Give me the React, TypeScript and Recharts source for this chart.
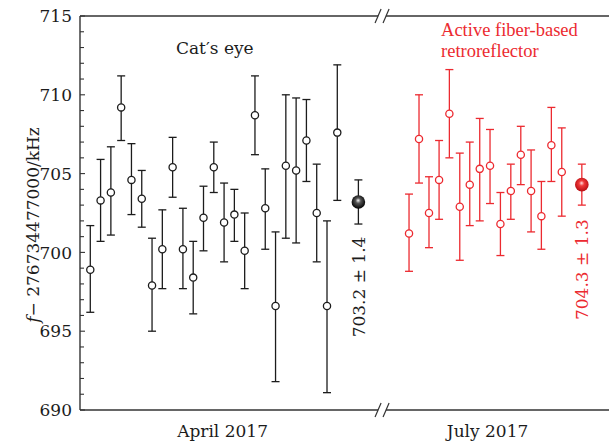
import { ScatterChart, Scatter, XAxis, YAxis, ErrorBar, ReferenceLine, ReferenceDot, Label } from "recharts";

const SERIF = '"DejaVu Serif", serif';
const TIMES = '"Liberation Serif", serif';
const INK = "#1c1c1c";
const AXIS = "#333";
const RED = "#ec2a30";

// April 2017, cat's eye
const aprilX = [0, 1, 2, 3, 4, 5, 6, 7, 8, 9, 10, 11, 12, 13, 14, 15, 16, 17, 18, 19, 20, 21, 22, 23, 24];
const aprilF = [698.9, 703.3, 703.8, 709.2, 704.6, 703.4, 697.9, 700.2, 705.4, 700.2, 698.4, 702.2, 705.4, 701.9, 702.4, 700.1, 708.7, 702.8, 696.6, 705.5, 705.2, 707.1, 702.5, 696.6, 707.6];
const aprilLow = [696.2, 700.7, 701.1, 707.1, 702.4, 701.6, 695.0, 697.7, 703.5, 697.7, 696.1, 700.1, 703.8, 699.4, 700.7, 697.7, 706.2, 700.2, 691.8, 700.9, 700.6, 704.5, 699.4, 691.1, 703.3];
const aprilHigh = [701.7, 705.9, 706.7, 711.2, 706.9, 705.2, 700.9, 702.7, 707.3, 702.8, 700.7, 704.2, 707.0, 704.4, 704.0, 702.5, 711.2, 705.3, 701.3, 710.0, 709.8, 709.7, 705.6, 702.0, 711.9];

// July 2017, active fiber-based retroreflector
const julyX = [30.97, 31.94, 32.91, 33.89, 34.89, 35.9, 36.87, 37.84, 38.84, 39.85, 40.86, 41.83, 42.83, 43.83, 44.8, 45.81];
const julyF = [701.2, 707.2, 702.5, 704.6, 708.8, 702.9, 704.3, 705.3, 705.5, 701.8, 703.9, 706.2, 703.9, 702.3, 706.8, 705.1];
const julyLow = [698.8, 704.4, 700.3, 702.1, 706.0, 699.5, 701.7, 702.0, 703.1, 699.8, 702.1, 704.3, 701.3, 700.2, 704.5, 702.3];
const julyHigh = [703.7, 710.0, 704.8, 707.1, 711.6, 706.3, 707.0, 708.5, 707.8, 703.8, 705.6, 708.0, 706.5, 704.5, 709.2, 707.9];

// weighted means
const meanX = [26.05, 47.76];
const meanF = [703.2, 704.3];
const meanLow = [701.8, 703.0];
const meanHigh = [704.6, 705.6];
const meanText = ["703.2 ± 1.4", "704.3 ± 1.3"];

const monthLabels = ["April 2017", "July 2017"];
const monthAt = [12.85, 38.6];
const yMajor = [690, 695, 700, 705, 710, 715];
const yTicks = [690, 691, 692, 693, 694, 695, 696, 697, 698, 699, 700, 701, 702, 703, 704, 705, 706, 707, 708, 709, 710, 711, 712, 713, 714, 715];

const xMin = -1;
const xMax = 50.4;
const breakAt = 28.35;
const breakHalf = 0.39;

function build(xs: number[], ys: number[], lo: number[], hi: number[]) {
  return xs.map((x, i) => ({ x, y: ys[i], err: [ys[i] - lo[i], hi[i] - ys[i]] }));
}

const april = build(aprilX, aprilF, aprilLow, aprilHigh);
const july = build(julyX, julyF, julyLow, julyHigh);
const means = build(meanX, meanF, meanLow, meanHigh).map((d, i) => ({ ...d, text: meanText[i] }));
const aprilMean = [means[0]];
const julyMean = [means[1]];

const openCircle = (color: string) => (p: any) => (
  <circle cx={p.cx} cy={p.cy} r={3.6} fill="#fff" stroke={color} strokeWidth={1.3} />
);

const sphere = (id: string, hi: string, mid: string, dark: string, textColor: string) => (p: any) => (
  <g>
    <defs>
      <radialGradient id={id} cx="50%" cy="45%" r="55%" fx="48%" fy="38%">
        <stop offset="0%" stopColor={hi} />
        <stop offset="35%" stopColor={mid} />
        <stop offset="100%" stopColor={dark} />
      </radialGradient>
    </defs>
    <circle cx={p.cx} cy={p.cy} r={6.8} fill={`url(#${id})`} />
    <text
      x={p.cx}
      y={p.cy + 85}
      dy="0.36em"
      textAnchor="middle"
      transform={`rotate(-90 ${p.cx} ${p.cy + 85})`}
      fontFamily={SERIF}
      fontSize={17}
      fill={textColor}
    >
      {p.payload.text}
    </text>
  </g>
);

const noMark = () => <g />;

function YTick({ x, y, payload }: any) {
  const major = yMajor.includes(payload.value);
  return (
    <g>
      <line x1={x} x2={x + (major ? 5 : 4)} y1={y} y2={y} stroke={AXIS} strokeWidth={1.1} />
      {major && (
        <text x={x - 8} y={y} dy="0.36em" textAnchor="end" fontFamily={SERIF} fontSize={17} fill={INK}>
          {payload.value}
        </text>
      )}
    </g>
  );
}

function XTick({ x, y, payload }: any) {
  const i = monthAt.indexOf(payload.value);
  return (
    <text x={x} y={y + 27} textAnchor="middle" fontFamily={SERIF} fontSize={17} fill={INK}>
      {monthLabels[i]}
    </text>
  );
}

function YLabel({ viewBox }: any) {
  const cx = viewBox.x + 33;
  const cy = viewBox.y + viewBox.height / 2 + 12;
  return (
    <text x={cx} y={cy} dy="0.36em" textAnchor="middle" transform={`rotate(-90 ${cx} ${cy})`} fontFamily={SERIF} fontSize={17} fill={INK}>
      <tspan fontStyle="italic">f</tspan>
      {"− 276734477000/kHz"}
    </text>
  );
}

const breakMark = (p: any) => (
  <g stroke={AXIS} strokeWidth={1.2}>
    <line x1={p.cx - 7} y1={p.cy + 7} x2={p.cx - 1} y2={p.cy - 7} />
    <line x1={p.cx + 1} y1={p.cy + 7} x2={p.cx + 7} y2={p.cy - 7} />
  </g>
);

const catText = (p: any) => (
  <text x={p.cx} y={p.cy} textAnchor="middle" fontFamily={SERIF} fontSize={17} fill={INK}>
    Cat′s eye
  </text>
);

const fiberText = (p: any) => (
  <text x={p.cx} y={p.cy} fontFamily={TIMES} fontSize={18.5} fill={RED}>
    <tspan x={p.cx}>Active fiber-based</tspan>
    <tspan x={p.cx} dy={21}>retroreflector</tspan>
  </text>
);

export default function App() {
  return (
    <div style={{ position: "absolute", left: 0, top: 0 }}>
      <ScatterChart width={609} height={444} margin={{ top: 16, right: 0, bottom: 0, left: 0 }}>
        <XAxis
          type="number"
          dataKey="x"
          domain={[xMin, xMax]}
          allowDataOverflow
          ticks={monthAt}
          tick={<XTick />}
          tickLine={false}
          axisLine={false}
          tickSize={0}
          tickMargin={0}
          height={34}
          interval={0}
        />
        <YAxis
          type="number"
          dataKey="y"
          domain={[690, 715]}
          allowDataOverflow
          ticks={yTicks}
          tick={<YTick />}
          tickLine={false}
          tickSize={0}
          tickMargin={0}
          interval={0}
          width={80}
          axisLine={{ stroke: AXIS, strokeWidth: 1.4 }}
        >
          <Label content={<YLabel />} />
        </YAxis>

        <ReferenceLine segment={[{ x: xMin, y: 690 }, { x: breakAt - breakHalf, y: 690 }]} stroke={AXIS} strokeWidth={1.4} ifOverflow="visible" />
        <ReferenceLine segment={[{ x: breakAt + breakHalf, y: 690 }, { x: xMax, y: 690 }]} stroke={AXIS} strokeWidth={1.4} ifOverflow="visible" />
        <ReferenceLine segment={[{ x: xMin, y: 715 }, { x: breakAt - breakHalf, y: 715 }]} stroke={AXIS} strokeWidth={1.4} ifOverflow="visible" />
        <ReferenceLine segment={[{ x: breakAt + breakHalf, y: 715 }, { x: xMax, y: 715 }]} stroke={AXIS} strokeWidth={1.4} ifOverflow="visible" />
        <ReferenceDot x={breakAt} y={690} shape={breakMark} ifOverflow="visible" />
        <ReferenceDot x={breakAt} y={715} shape={breakMark} ifOverflow="visible" />
        <ReferenceDot x={12.1} y={712.6} shape={catText} ifOverflow="visible" />
        <ReferenceDot x={34.08} y={713.75} shape={fiberText} ifOverflow="visible" />

        <Scatter data={april} shape={noMark} isAnimationActive={false}>
          <ErrorBar dataKey="err" direction="y" width={4} stroke={INK} strokeWidth={1.3} isAnimationActive={false} />
        </Scatter>
        <Scatter data={aprilMean} shape={noMark} isAnimationActive={false}>
          <ErrorBar dataKey="err" direction="y" width={4} stroke={INK} strokeWidth={1.3} isAnimationActive={false} />
        </Scatter>
        <Scatter data={july} shape={noMark} isAnimationActive={false}>
          <ErrorBar dataKey="err" direction="y" width={4} stroke={RED} strokeWidth={1.3} isAnimationActive={false} />
        </Scatter>
        <Scatter data={julyMean} shape={noMark} isAnimationActive={false}>
          <ErrorBar dataKey="err" direction="y" width={4} stroke={RED} strokeWidth={1.3} isAnimationActive={false} />
        </Scatter>

        <Scatter data={april} shape={openCircle(INK)} isAnimationActive={false} />
        <Scatter data={july} shape={openCircle(RED)} isAnimationActive={false} />
        <Scatter data={aprilMean} shape={sphere("ballBlack", "#f4f4f4", "#555", "#000", INK)} isAnimationActive={false} />
        <Scatter data={julyMean} shape={sphere("ballRed", "#ffe0e0", "#f03a3a", "#b80d12", RED)} isAnimationActive={false} />
      </ScatterChart>
    </div>
  );
}
